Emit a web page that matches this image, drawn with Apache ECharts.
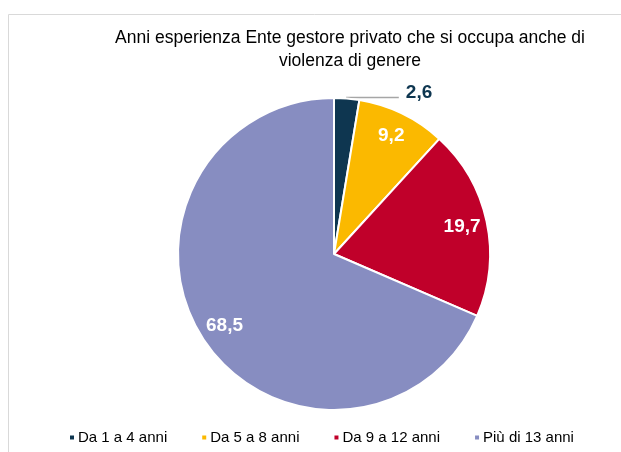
<!DOCTYPE html>
<html>
<head>
<meta charset="utf-8">
<script src="https://cdn.jsdelivr.net/npm/echarts@6/dist/echarts.min.js"></script>
<style>
html, body { margin: 0; padding: 0; background: #fff; }
#chart { width: 621px; height: 452px; }
</style>
</head>
<body>
<div id="chart"></div>
<script>
var categories = ["Da 1 a 4 anni", "Da 5 a 8 anni", "Da 9 a 12 anni", "Più di 13 anni"];
var values = [2.6, 9.2, 19.7, 68.5];
var colors = ["#0e3650", "#fbb900", "#c0002a", "#878dc1"];

var font = "'Liberation Sans Narrow', 'Arial Narrow', 'Liberation Sans', Arial, sans-serif";

function fmt(v) {
    return String(v).replace(".", ",");
}

(function () {
    var myChart = echarts.init(document.getElementById("chart"));

    // fette principali; solo la piccola ha l'etichetta esterna
    var mainData = categories.map(function (name, i) {
        var d = { name: name, value: values[i], itemStyle: { color: colors[i] } };
        if (i === 0) {
            d.label = { show: true };
            d.labelLine = { show: true };
        }
        return d;
    });

    // anello trasparente per mettere le etichette interne vicino al bordo
    var labelData = categories.map(function (name, i) {
        return {
            name: name,
            value: values[i],
            label: { show: i !== 0 }
        };
    });

    var option = {
        color: colors,
        animation: false,
        title: {
            text: "Anni esperienza Ente gestore privato che si occupa anche di\nviolenza di genere",
            left: 345,
            top: 22,
            textAlign: "center",
            textStyle: {
                fontFamily: font,
                fontSize: 17.5,
                fontWeight: "normal",
                color: "#000",
                lineHeight: 23
            }
        },
        legend: {
            bottom: 2,
            left: 63,
            itemWidth: 6,
            itemHeight: 6,
            itemGap: 33,
            icon: "rect",
            textStyle: {
                fontFamily: font,
                fontSize: 15,
                color: "#000",
                padding: [0, 0, 0, -2]
            },
            data: categories
        },
        graphic: [
            {
                type: "polyline",
                shape: { points: [[8.5, 452], [8.5, 14.5], [621, 14.5]] },
                style: { stroke: "#d9d9d9", lineWidth: 1, fill: null },
                silent: true
            }
        ],
        series: [
            {
                name: "Anni esperienza",
                type: "pie",
                center: [334, 254],
                radius: [0, 156],
                startAngle: 90,
                clockwise: true,
                avoidLabelOverlap: false,
                itemStyle: { borderColor: "#fff", borderWidth: 2 },
                label: {
                    show: false,
                    position: "outside",
                    formatter: function (p) { return fmt(p.value); },
                    fontFamily: font,
                    fontSize: 19,
                    fontWeight: "bold",
                    color: "#0e3650",
                    padding: [0, 0, 0, 2]
                },
                labelLayout: { dy: -5 },
                labelLine: {
                    show: false,
                    length: 1,
                    length2: 52,
                    lineStyle: { color: "#a6a6a6", width: 1.5 }
                },
                emphasis: { disabled: true },
                data: mainData
            },
            {
                name: "labels",
                type: "pie",
                center: [334, 254],
                radius: [100, 156],
                startAngle: 90,
                clockwise: true,
                silent: true,
                legendHoverLink: false,
                itemStyle: { color: "rgba(0,0,0,0)", borderWidth: 0 },
                label: {
                    show: true,
                    position: "inside",
                    formatter: function (p) { return fmt(p.value); },
                    fontFamily: font,
                    fontSize: 19,
                    fontWeight: "bold",
                    color: "#fff"
                },
                labelLine: { show: false },
                emphasis: { disabled: true },
                tooltip: { show: false },
                data: labelData
            }
        ]
    };

    myChart.setOption(option);
    window.addEventListener("resize", function () {
        myChart.resize();
    });
})();
</script>
</body>
</html>
